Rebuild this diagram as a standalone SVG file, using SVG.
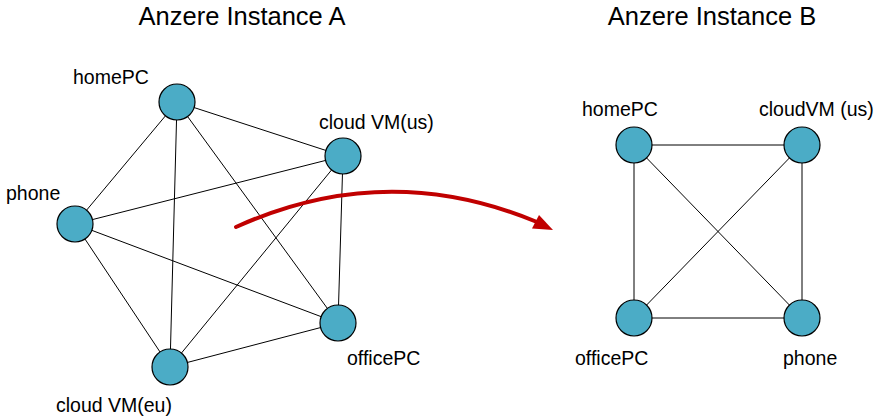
<svg xmlns="http://www.w3.org/2000/svg" width="882" height="420" viewBox="0 0 882 420">
<defs>
<style>
text{font-family:"Liberation Sans",Arial,sans-serif;fill:#000}
.title{font-size:25.5px;text-anchor:middle}
.lbl{font-size:19.5px}
.node{fill:#4BACC6;stroke:#000;stroke-width:1.2}
.edge{stroke:#000;stroke-width:1;fill:none}
</style>
</defs>
<rect width="882" height="420" fill="#fff"/>
<text class="title" x="242" y="25">Anzere Instance A</text>
<text class="title" x="712" y="25">Anzere Instance B</text>
<g id="connectors">
<line class="edge" x1="177" y1="102" x2="343" y2="156"/>
<line class="edge" x1="177" y1="102" x2="75" y2="224"/>
<line class="edge" x1="177" y1="102" x2="170" y2="367"/>
<line class="edge" x1="177" y1="102" x2="338" y2="323"/>
<line class="edge" x1="343" y1="156" x2="75" y2="224"/>
<line class="edge" x1="343" y1="156" x2="170" y2="367"/>
<line class="edge" x1="343" y1="156" x2="338" y2="323"/>
<line class="edge" x1="75" y1="224" x2="170" y2="367"/>
<line class="edge" x1="75" y1="224" x2="338" y2="323"/>
<line class="edge" x1="170" y1="367" x2="338" y2="323"/>
<line class="edge" x1="634" y1="145" x2="802" y2="145"/>
<line class="edge" x1="634" y1="145" x2="634" y2="318"/>
<line class="edge" x1="634" y1="145" x2="802" y2="318"/>
<line class="edge" x1="802" y1="145" x2="634" y2="318"/>
<line class="edge" x1="802" y1="145" x2="802" y2="318"/>
<line class="edge" x1="634" y1="318" x2="802" y2="318"/>
<path d="M236,227 Q386,159 537,222" fill="none" stroke="#C00000" stroke-width="4" stroke-linecap="round"/>
<polygon points="553,230 532,228.5 539,215" fill="#C00000"/>
</g>
<g id="a-homePC"><circle class="node" cx="177" cy="102" r="18"/><text class="lbl" x="73" y="84">homePC</text></g>
<g id="a-cloudVM-us"><circle class="node" cx="343" cy="156" r="18"/><text class="lbl" x="319" y="129">cloud VM(us)</text></g>
<g id="a-phone"><circle class="node" cx="75" cy="224" r="18"/><text class="lbl" x="6" y="200">phone</text></g>
<g id="a-officePC"><circle class="node" cx="338" cy="323" r="18"/><text class="lbl" x="347" y="365">officePC</text></g>
<g id="a-cloudVM-eu"><circle class="node" cx="170" cy="367" r="18"/><text class="lbl" x="56" y="412">cloud VM(eu)</text></g>
<g id="b-homePC"><circle class="node" cx="634" cy="145" r="18"/><text class="lbl" x="582" y="116">homePC</text></g>
<g id="b-cloudVM-us"><circle class="node" cx="802" cy="145" r="18"/><text class="lbl" x="759" y="116">cloudVM (us)</text></g>
<g id="b-officePC"><circle class="node" cx="634" cy="318" r="18"/><text class="lbl" x="575" y="365">officePC</text></g>
<g id="b-phone"><circle class="node" cx="802" cy="318" r="18"/><text class="lbl" x="783" y="365">phone</text></g>
</svg>
